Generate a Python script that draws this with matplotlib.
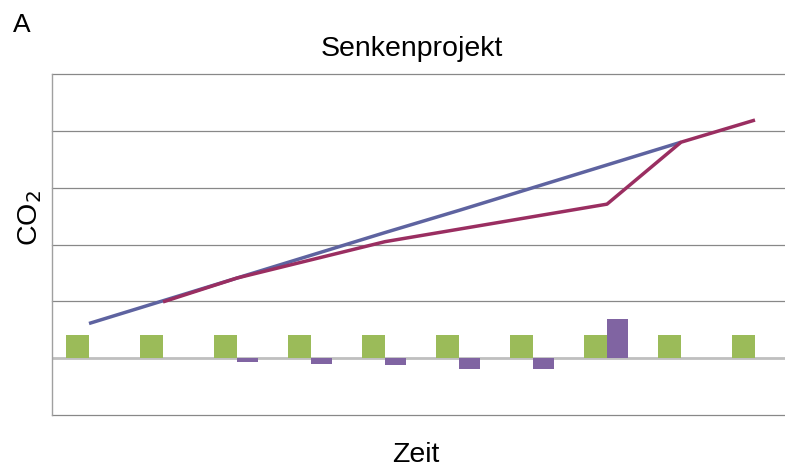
import matplotlib.pyplot as plt
import numpy as np

# datos (unidades de la rejilla)
kategorien = list(range(10))
senke_gruen = [0.40, 0.40, 0.40, 0.40, 0.40, 0.40, 0.40, 0.40, 0.40, 0.40]
diff_lila = [0, 0, -0.07, -0.10, -0.12, -0.19, -0.19, 0.69, 0, 0]
blau_x = [0, 1, 2, 3, 4, 5, 6, 7, 8]
blau_y = [0.61, 1.01, 1.41, 1.81, 2.21, 2.60, 3.00, 3.40, 3.80]
rot_x = [1, 2, 3, 4, 5, 6, 7, 8, 9]
rot_y = [0.99, 1.41, 1.73, 2.05, 2.27, 2.49, 2.71, 3.80, 4.19]
gitter = [-1, 1, 2, 3, 4, 5]

plt.rcParams['font.family'] = ['Liberation Sans', 'DejaVu Sans']

fig = plt.figure(figsize=(7.85, 4.7), dpi=100)
W, H = 785, 470
ax = fig.add_axes([52 / W, (H - 415) / H, (792 - 52) / W, (415 - 74) / H])

x = np.array(kategorien)
ax.bar(x - 0.31, senke_gruen, width=0.31, align='edge', color='#9BBB59', zorder=2)
ax.bar(x, diff_lila, width=0.29, align='edge', color='#8064A2', zorder=2)

ax.plot(blau_x, blau_y, color='#5E63A0', lw=2.5, zorder=3, solid_capstyle='butt')
ax.plot(rot_x, rot_y, color='#9A2E61', lw=2.5, zorder=4, solid_capstyle='butt')

# rejilla
for g in gitter:
    ax.axhline(g, color='#888888', lw=0.9, zorder=1, clip_on=False)
ax.axhline(0, color='#BFBFBF', lw=2, zorder=1)

ax.set_xlim(-0.5, 9.5)
ax.set_ylim(-1, 5)
ax.set_xticks([])
ax.set_yticks([])
for s in ['top', 'right', 'bottom']:
    ax.spines[s].set_visible(False)
ax.spines['left'].set_color('#A0A0A0')
ax.spines['left'].set_linewidth(1)

fig.text(13 / W, 1 - 32 / H, 'A', fontsize=19, ha='left', va='baseline')
fig.text(412 / W, 1 - 56 / H, 'Senkenprojekt', fontsize=20.5, ha='center', va='baseline')
fig.text(416 / W, 1 - 455 / H, 'Zeit', fontsize=20.5, ha='center', va='center')
fig.text(30 / W, 1 - 218 / H, 'CO$_2$', fontsize=20.5, rotation=90, ha='center', va='center')

fig.savefig('out.png', dpi=100)
